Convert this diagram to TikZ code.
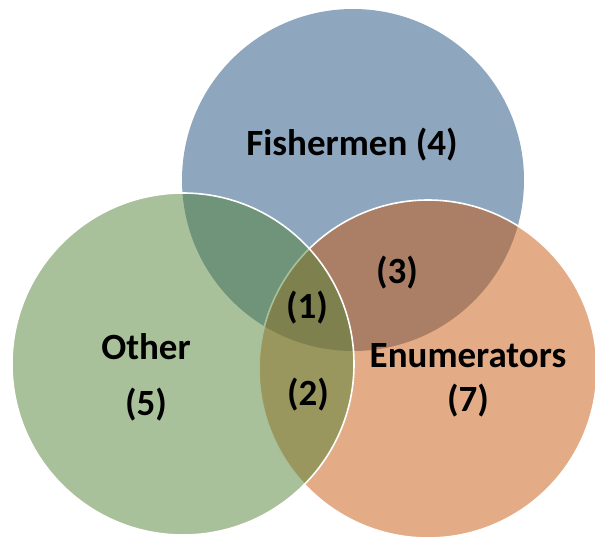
\documentclass[tikz,border=0pt]{standalone}
\usepackage{fontspec}
\setmainfont{Carlito}
\usetikzlibrary{positioning}
\definecolor{vBlue}{RGB}{29,77,125}
\definecolor{vOrange}{RGB}{199,89,15}
\definecolor{vGreen}{RGB}{83,131,55}
\tikzset{
  vset/.style    = {circle, minimum size=342pt, inner sep=0pt,
                    fill opacity=0.5, line width=1.6pt},
  vsetblue/.style  = {vset, fill=vBlue},
  vsetorange/.style= {vset, fill=vOrange, draw=white, minimum size=338pt},
  vsetgreen/.style = {vset, fill=vGreen, draw=white},
  vlab/.style    = {font=\fontsize{37}{44}\selectfont\bfseries, text=black,
                    align=center, inner sep=0pt},
}

\begin{document}
\begin{tikzpicture}[x=1pt, y=-1pt]
    \useasboundingbox (0,0) rectangle (595,539);
    % the three sets, drawn back to front
    \node[vsetblue]   (fish)  at (353,180) {};
    \node[vsetorange] (enum)  at (428,369) {};
    \node[vsetgreen]  (other) at (183,364) {};
    % labels
    \node[vlab] (fishlab)  at (352,145) {Fishermen (4)};
    \node[vlab] (otherlab) at (146,377) {Other\\[12pt](5)};
    \node[vlab] (enumlab)  at (468,380) {Enumerators\\(7)};
    \node[vlab] (fe)  at (397,273) {(3)};
    \node[vlab] (all) at (307,308) {(1)};
    \node[vlab] (oe)  at (308,395) {(2)};
  \end{tikzpicture}
\end{document}
